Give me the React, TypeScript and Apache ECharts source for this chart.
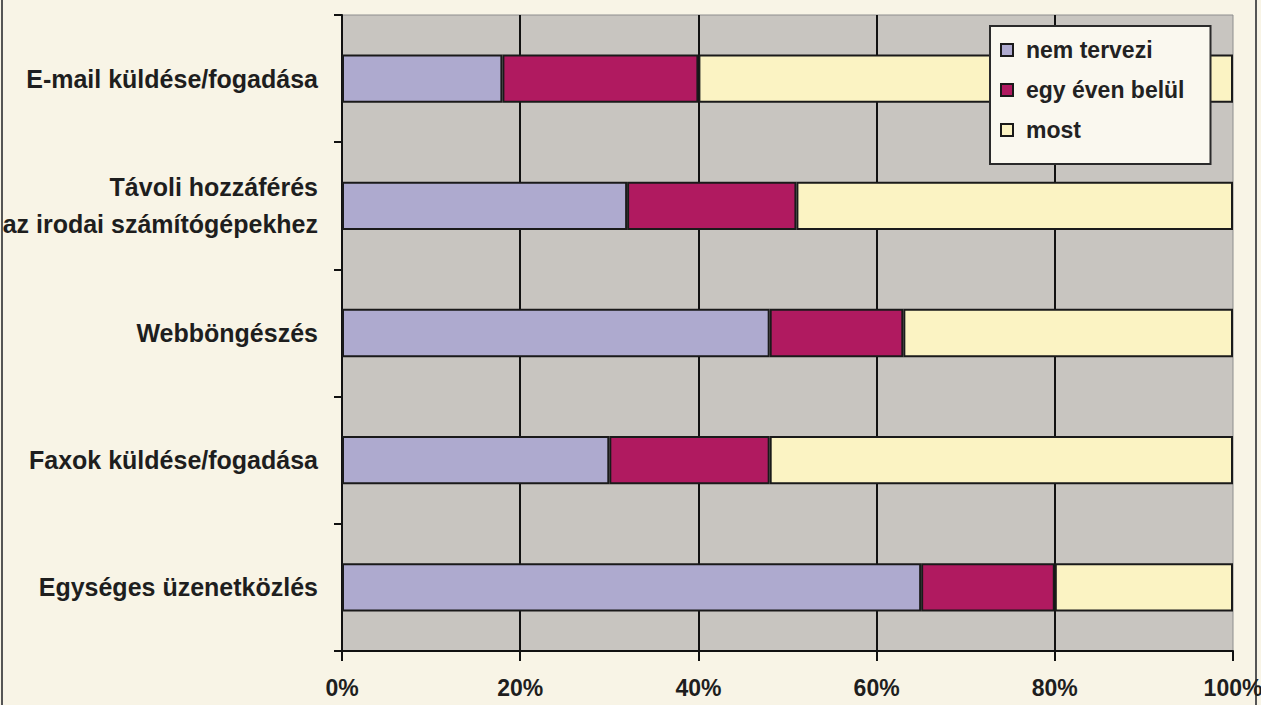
import React, { useEffect, useRef } from "react";
import * as echarts from "echarts";

const categories = [
  "E-mail küldése/fogadása",
  "Távoli hozzáférés\naz irodai számítógépekhez",
  "Webböngészés",
  "Faxok küldése/fogadása",
  "Egységes üzenetközlés",
];
const nemTervezi = [18, 32, 48, 30, 65];
const egyEvenBelul = [22, 19, 15, 18, 15];
const most = [60, 49, 37, 52, 20];
const seriesNames = ["nem tervezi", "egy éven belül", "most"];
const colors = ["#aeaacf", "#b01a60", "#fbf3c3"];

const FONT = "'Liberation Sans', Arial, sans-serif";

export default function App() {
  const ref = useRef<HTMLDivElement>(null);
  useEffect(() => {
    if (!ref.current) return;
    const chart = echarts.init(ref.current, undefined, { renderer: "svg" });
    const values = [nemTervezi, egyEvenBelul, most];
    chart.setOption({
      animation: false,
      backgroundColor: "#f8f4e6",
      textStyle: { fontFamily: FONT },
      grid: {
        left: 342,
        right: 28,
        top: 15,
        bottom: 54,
        outerBoundsMode: "none",
        containLabel: false,
        show: true,
        backgroundColor: "#c8c5c0",
        borderColor: "#8e8e8e",
        borderWidth: 1,
      },
      legend: {
        orient: "vertical",
        left: 990,
        top: 26,
        padding: [12, 26, 22, 10],
        itemGap: 16,
        itemWidth: 12,
        itemHeight: 12,
        icon: "rect",
        backgroundColor: "#faf8ef",
        borderColor: "#2a2a2a",
        borderWidth: 2,
        data: seriesNames,
        textStyle: {
          fontFamily: FONT,
          fontWeight: "bold",
          fontSize: 23,
          lineHeight: 24,
          color: "#222",
          padding: [0, 0, 0, 8],
        },
      },
      xAxis: {
        type: "value",
        min: 0,
        max: 100,
        interval: 20,
        axisLine: { show: true, lineStyle: { color: "#111", width: 2 } },
        axisTick: { show: true, length: 10, lineStyle: { color: "#111", width: 2 } },
        axisLabel: {
          formatter: "{value}%",
          margin: 25,
          fontFamily: FONT,
          fontWeight: "bold",
          fontSize: 23,
          color: "#1e1e1e",
        },
        splitLine: {
          show: true,
          showMinLine: false,
          showMaxLine: false,
          lineStyle: { color: "#111", width: 2 },
        },
      },
      yAxis: {
        type: "category",
        inverse: true,
        data: categories,
        axisLine: { show: true, lineStyle: { color: "#111", width: 2 } },
        axisTick: { show: true, length: 8, lineStyle: { color: "#111", width: 2 } },
        axisLabel: {
          margin: 24,
          fontFamily: FONT,
          fontWeight: "bold",
          fontSize: 25,
          lineHeight: 37,
          color: "#1e1e1e",
          align: "right",
        },
        splitLine: { show: false },
      },
      series: seriesNames.map((name, i) => ({
        name,
        type: "bar",
        stack: "total",
        barWidth: "38%",
        data: values[i],
        itemStyle: { color: colors[i], borderColor: "#1a1a1a", borderWidth: 2 },
      })),
      graphic: [
        { type: "line", shape: { x1: 2, y1: 0, x2: 2, y2: 705 }, style: { stroke: "#555", lineWidth: 2 } },
        { type: "line", shape: { x1: 1256, y1: 0, x2: 1256, y2: 705 }, style: { stroke: "#555", lineWidth: 2 } },
      ],
    });
    return () => chart.dispose();
  }, []);
  return (
    <div
      ref={ref}
      style={{ position: "fixed", left: 0, top: 0, width: 1261, height: 705 }}
    />
  );
}
